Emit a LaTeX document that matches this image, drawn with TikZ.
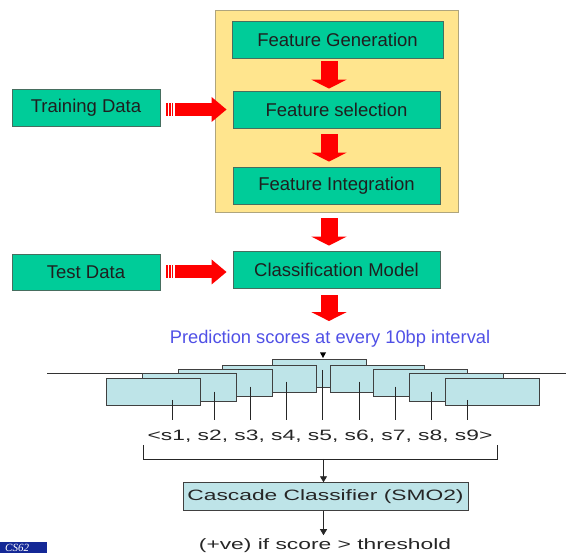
\documentclass[tikz,border=0pt]{standalone}
\usepackage{fontspec}
\setmainfont{Liberation Sans}
\newfontfamily\widesans[FakeStretch=1.52]{Liberation Sans}
\newfontfamily\logofont{Liberation Serif}
\usetikzlibrary{arrows.meta}

\definecolor{boxgreen}{RGB}{0,204,153}
\definecolor{boxedge}{RGB}{70,110,95}
\definecolor{stageyellow}{RGB}{255,229,142}
\definecolor{stageedge}{RGB}{175,165,125}
\definecolor{predblue}{RGB}{80,80,230}
\definecolor{windowblue}{RGB}{190,228,232}
\definecolor{logoblue}{RGB}{20,40,150}

\tikzset{
  greenbox/.style={draw=boxedge, line width=0.8pt, fill=boxgreen, inner sep=0pt,
    minimum height=37pt, text=black!88, font=\fontsize{18.5}{22}\selectfont},
  fatdown/.style={draw=red, line width=17pt, -{Triangle[width=35pt,length=9pt]}},
  fatright/.style={draw=red, line width=13pt, -{Triangle[width=24pt,length=15pt]}},
  stripe/.style={draw=red, line width=1.8pt},
  window/.style={draw=black!75, line width=0.8pt, fill=windowblue,
    minimum width=94pt, minimum height=27.5pt, inner sep=0pt},
  thinarrow/.style={draw=black!85, line width=0.9pt, -{Triangle[width=7pt,length=6pt]}},
  widetext/.style={font=\widesans\fontsize{15}{18}\selectfont, text=black!85, inner sep=0pt}
}

\begin{document}
\begin{tikzpicture}[x=1pt,y=-1pt]
    \useasboundingbox (0,0) rectangle (566,553);

    % learning stage
    \node[draw=stageedge, fill=stageyellow, line width=0.8pt, minimum width=243pt,
      minimum height=202pt, inner sep=0pt] (stage) at (337,111) {};

    \node[greenbox, minimum width=211pt] (fgen) at (337.5,39.5) {Feature Generation};
    \node[greenbox, minimum width=207pt] (fsel) at (336.5,109.5) {Feature selection};
    \node[greenbox, minimum width=207pt] (fint) at (336.5,185.5) {Feature Integration};
    \node[greenbox, minimum width=207pt] (cmod) at (336.5,269.5) {Classification Model};
    \node[greenbox, minimum width=148pt] (train) at (86,107.5) {Training Data};
    \node[greenbox, minimum width=148pt, minimum height=36pt] (test) at (86,272) {Test Data};

    \node[font=\fontsize{18.3}{22}\selectfont, text=predblue, inner sep=0pt, anchor=base]
      (pred) at (330,343.5) {Prediction scores at every 10bp interval};

    \coordinate (axis) at (329,0);
    \draw[fatdown, shorten <=3pt, shorten >=2pt] (fgen.south -| axis) -- (fsel.north -| axis);
    \draw[fatdown, shorten <=6pt, shorten >=5pt] (fsel.south -| axis) -- (fint.north -| axis);
    \draw[fatdown, shorten <=6pt, shorten >=5pt] (stage.south -| axis) -- (cmod.north -| axis);
    \draw[fatdown, shorten <=7pt, shorten >=9pt] (cmod.south -| axis) -- (pred.north -| axis);

    % data inputs
    \coordinate (trin) at (train.east |- fsel.west);
    \draw[fatright, shorten <=15pt, shorten >=6pt] (trin) -- (fsel.west);
    \foreach \s in {6.7,9.4,12.1}
    \draw[stripe] ([xshift=\s pt]trin) ++(0,-6.5) -- ++(0,13);

    \draw[fatright, shorten <=15pt, shorten >=6pt] (test.east) -- (cmod.west |- test.east);
    \foreach \s in {6.7,9.4,12.1}
    \draw[stripe] ([xshift=\s pt]test.east) ++(0,-6.5) -- ++(0,13);

    % sliding windows
    \draw[black!80, line width=0.8pt] (47,373) -- (566,373);
    \foreach \n/\x/\y in {5/319.2/373.4, 4/268.9/378.7, 6/377.5/378.7, 3/225.3/383, 7/420.3/383,
      2/188.9/387.5, 8/456.7/387.5, 1/153/392, 9/492.2/392}
    \node[window] (w\n) at (\x,\y) {};

    \coordinate (mark) at (323,358);
    \fill[black] (mark) -- ++(-3,-5.5) -- ++(6,0) -- cycle;

    \foreach \x/\t in {172/400, 214.3/391.7, 250/386.7, 286.7/381.7, 322.7/370,
      359.3/381.7, 395/386.7, 431/391.7, 467.3/400}
    \draw[black!85, line width=0.8pt] (\x,\t) -- (\x,420);

    \node[widetext, anchor=base] (scores) at (320,441) {<s1, s2, s3, s4, s5, s6, s7, s8, s9>};

    % cascade
    \coordinate (bl) at (143,445);
    \coordinate (br) at (497,445);
    \coordinate (join) at (323.5,459);
    \draw[black!85, line width=0.8pt] (bl) -- ++(0,14) -| (br);

    \node[window, widetext, minimum width=285pt, minimum height=28pt]
      (cascade) at (325.5,496.7) {Cascade Classifier (SMO2)};
    \draw[thinarrow] (join) -- (join |- cascade.north);

    \node[widetext, anchor=base] (result) at (325,549.3) {(+ve) if score > threshold};
    \draw[thinarrow, shorten >=3pt] (cascade.south -| join) -- (result.north -| join);

    % logo corner
    \fill[logoblue] (0,542) rectangle (47,553);
    \node[anchor=base west, inner sep=0pt, text=white,
      font=\logofont\itshape\fontsize{11}{13}\selectfont] (logo) at (5,551.3) {CS62};
\end{tikzpicture}
\end{document}
